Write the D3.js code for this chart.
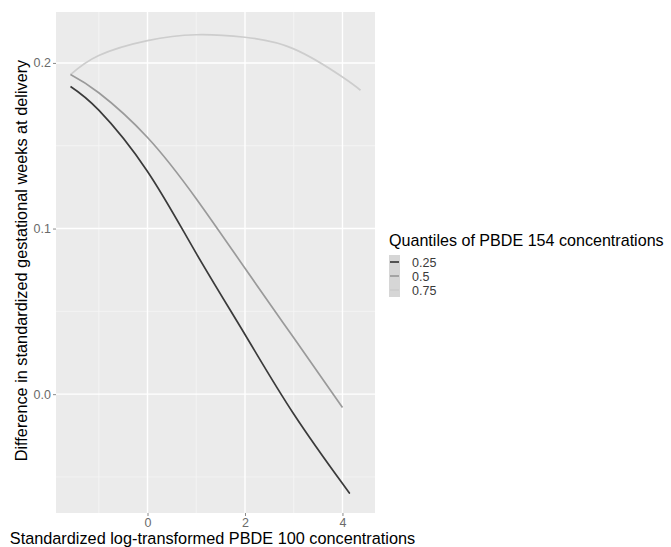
<!DOCTYPE html>
<html>
<head>
<meta charset="utf-8">
<script src="https://cdn.jsdelivr.net/npm/d3@7/dist/d3.min.js"></script>
<style>
  html, body { margin: 0; padding: 0; background: #ffffff; }
  svg { display: block; font-family: "Liberation Sans", Arial, sans-serif; }
</style>
</head>
<body>
<svg id="chart" width="671" height="547"></svg>
<script>
// Fitted differences by PBDE 100 level, one series per PBDE 154 quantile
const quantiles = ["0.25", "0.5", "0.75"];
const xQ25 = [-1.58, -1, 0, 1, 2, 3, 4, 4.1];
const yQ25 = [0.1858, 0.1715, 0.1345, 0.085, 0.036, -0.012, -0.054, -0.058];
const xQ50 = [-1.58, -1, 0, 1, 2, 3, 4];
const yQ50 = [0.193, 0.182, 0.155, 0.118, 0.076, 0.034, -0.008];
const xQ75 = [-1.58, -1, 0, 1, 2, 3, 4, 4.37];
const yQ75 = [0.193, 0.2045, 0.2135, 0.217, 0.2155, 0.2085, 0.1915, 0.1835];
const xTicks = [0, 2, 4];
const yTicks = [0.0, 0.1, 0.2];
const lineColors = ["#3a3a3a", "#9a9a9a", "#cdcdcd"];

const series = [
  { key: quantiles[0], xs: xQ25, ys: yQ25, color: lineColors[0] },
  { key: quantiles[1], xs: xQ50, ys: yQ50, color: lineColors[1] },
  { key: quantiles[2], xs: xQ75, ys: yQ75, color: lineColors[2] }
].map(s => ({ ...s, pts: s.xs.map((x, i) => [x, s.ys[i]]) }));

const panel = { left: 56, top: 12, right: 375, bottom: 513 };
const svg = d3.select("#chart");

// Continuous scales with 5% padding on each side of the data range
function padded(values) {
  const [lo, hi] = d3.extent(values);
  const pad = (hi - lo) * 0.05;
  return [lo - pad, hi + pad];
}
const allX = series.flatMap(s => s.xs);
const allY = series.flatMap(s => s.ys);
const x = d3.scaleLinear().domain(padded(allX)).range([panel.left, panel.right]);
const y = d3.scaleLinear().domain(padded(allY)).range([panel.bottom, panel.top]);

// Panel background
svg.append("rect")
  .attr("x", panel.left).attr("y", panel.top)
  .attr("width", panel.right - panel.left).attr("height", panel.bottom - panel.top)
  .attr("fill", "#ebebeb");

// Minor grid lines halfway between breaks
const xMinor = d3.range(xTicks[0] - 1, xTicks[xTicks.length - 1] + 2, 2)
  .filter(v => v > x.domain()[0] && v < x.domain()[1]);
const yMinor = d3.range(-0.05, 0.3, 0.1)
  .filter(v => v > y.domain()[0] && v < y.domain()[1]);

const grid = svg.append("g");
grid.selectAll(".vminor").data(xMinor).join("line")
  .attr("x1", d => x(d)).attr("x2", d => x(d))
  .attr("y1", panel.top).attr("y2", panel.bottom)
  .attr("stroke", "#f5f5f5").attr("stroke-width", 0.9);
grid.selectAll(".hminor").data(yMinor).join("line")
  .attr("y1", d => y(d)).attr("y2", d => y(d))
  .attr("x1", panel.left).attr("x2", panel.right)
  .attr("stroke", "#f5f5f5").attr("stroke-width", 0.9);
grid.selectAll(".vmajor").data(xTicks).join("line")
  .attr("x1", d => x(d)).attr("x2", d => x(d))
  .attr("y1", panel.top).attr("y2", panel.bottom)
  .attr("stroke", "#ffffff").attr("stroke-width", 1.4);
grid.selectAll(".hmajor").data(yTicks).join("line")
  .attr("y1", d => y(d)).attr("y2", d => y(d))
  .attr("x1", panel.left).attr("x2", panel.right)
  .attr("stroke", "#ffffff").attr("stroke-width", 1.4);

// Axes
const xAxis = svg.append("g")
  .attr("transform", `translate(0,${panel.bottom})`)
  .call(d3.axisBottom(x).tickValues(xTicks).tickFormat(d3.format("d")).tickSize(3).tickPadding(2));
const yAxis = svg.append("g")
  .attr("transform", `translate(${panel.left},0)`)
  .call(d3.axisLeft(y).tickValues(yTicks).tickFormat(d3.format(".1f")).tickSize(3).tickPadding(2));
[xAxis, yAxis].forEach(a => {
  a.select(".domain").remove();
  a.selectAll(".tick line").attr("stroke", "#8a8a8a");
  a.selectAll(".tick text").attr("fill", "#6a6a6a")
    .style("font-size", "12.5px").style("font-family", "'Liberation Sans', Arial, sans-serif");
});

// Lines (smooth spline through the fitted values)
const line = d3.line().x(d => x(d[0])).y(d => y(d[1])).curve(d3.curveNatural);
svg.append("g").selectAll("path").data(series.slice().reverse()).join("path")
  .attr("d", d => line(d.pts))
  .attr("fill", "none")
  .attr("stroke", d => d.color)
  .attr("stroke-width", 1.7)
  .attr("stroke-linecap", "butt");

// Axis titles
svg.append("text")
  .attr("x", (panel.left + panel.right) / 2 - 3).attr("y", 544)
  .attr("text-anchor", "middle")
  .attr("fill", "#000").style("font-size", "16.3px")
  .text("Standardized log-transformed PBDE 100 concentrations");
svg.append("text")
  .attr("transform", `translate(27,${(panel.top + panel.bottom) / 2 - 2}) rotate(-90)`)
  .attr("text-anchor", "middle")
  .attr("fill", "#000").style("font-size", "16.3px")
  .text("Difference in standardized gestational weeks at delivery");

// Legend
const legend = svg.append("g").attr("transform", "translate(389,0)");
legend.append("text")
  .attr("x", 0).attr("y", 246)
  .attr("fill", "#000").style("font-size", "16.1px")
  .text("Quantiles of PBDE 154 concentrations");
const keyH = 14, keyW = 11, keyTop = 255;
const rows = legend.selectAll(".row").data(series).join("g")
  .attr("transform", (d, i) => `translate(0,${keyTop + i * keyH})`);
rows.append("rect")
  .attr("x", 0).attr("y", 0).attr("width", keyW).attr("height", keyH)
  .attr("fill", "#d6d6d6");
rows.append("line")
  .attr("x1", 1).attr("x2", keyW - 1)
  .attr("y1", keyH / 2).attr("y2", keyH / 2)
  .attr("stroke", d => d.color).attr("stroke-width", 1.7);
rows.append("text")
  .attr("x", keyW + 12).attr("y", keyH / 2).attr("dy", "0.36em")
  .attr("fill", "#3a3a3a").style("font-size", "12.5px")
  .text(d => d.key);
</script>
</body>
</html>
